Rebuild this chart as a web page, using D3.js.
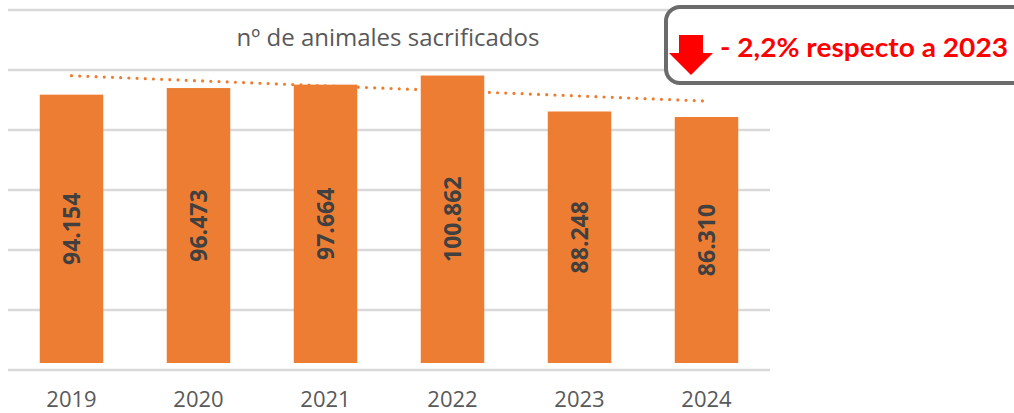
<!DOCTYPE html>
<html>
<head>
<meta charset="utf-8">
<script src="https://cdn.jsdelivr.net/npm/d3@7"></script>
<style>
    body { margin: 0; background: #ffffff; }
    svg { display: block; }
</style>
</head>
<body>
<div id="chart"></div>
<script>
// data
let years = ["2019", "2020", "2021", "2022", "2023", "2024"];
let animals = [94154, 96473, 97664, 100862, 88248, 86310];
// dotted trend line, start and end values (first and last year)
let trendEnds = [100800, 91900];
let gridTicks = [0, 20000, 40000, 60000, 80000, 100000, 120000];
let chartTitle = "nº de animales sacrificados";
let calloutText = "- 2,2% respecto a 2023";

let width = 1014, height = 413;

// numbers with "." as thousands separator
let es = d3.formatLocale({decimal: ",", thousands: ".", grouping: [3], currency: ["", " €"]});
let fmt = es.format(",d");

let svg = d3.select("#chart")
    .append("svg")
    .attr("width", width)
    .attr("height", height);

// soft edge on the bars like the original
let defs = svg.append("defs");
defs.append("filter")
    .attr("id", "soft")
    .append("feGaussianBlur")
    .attr("stdDeviation", 0.6);

// scales
let x = d3.scaleBand()
    .domain(years)
    .range([8, 770])
    .paddingInner(0.5)
    .paddingOuter(0.25);

let gridY = d3.scaleLinear()
    .domain([0, 120000])
    .range([370, 10]);

let y = d3.scaleLinear()
    .domain([0, 120000])
    .range([363, 21]);

// gridlines
svg.append("g")
    .selectAll("line")
    .data(gridTicks)
    .enter()
    .append("line")
    .attr("x1", 8)
    .attr("x2", 770)
    .attr("y1", d => gridY(d))
    .attr("y2", d => gridY(d))
    .attr("stroke", "#d9d9d9")
    .attr("stroke-width", 2.5);

// title
svg.append("text")
    .attr("x", 388)
    .attr("y", 46)
    .attr("text-anchor", "middle")
    .style("font-family", "'Open Sans', sans-serif")
    .style("font-size", "24px")
    .style("fill", "#595959")
    .text(chartTitle);

// bars
svg.append("g")
    .selectAll("rect")
    .data(animals)
    .enter()
    .append("rect")
    .attr("x", (d, i) => x(years[i]))
    .attr("width", x.bandwidth())
    .attr("y", d => y(d))
    .attr("height", d => y(0) - y(d))
    .attr("fill", "#ED7D31")
    .attr("filter", "url(#soft)");

// value labels inside bars
svg.append("g")
    .selectAll("text")
    .data(animals)
    .enter()
    .append("text")
    .attr("transform", (d, i) => "translate(" + (x(years[i]) + x.bandwidth() / 2) + "," + ((y(d) + y(0)) / 2) + ") rotate(-90)")
    .attr("text-anchor", "middle")
    .attr("dy", "0.36em")
    .style("font-family", "'Open Sans', sans-serif")
    .style("font-weight", "bold")
    .style("font-size", "23px")
    .style("fill", "#404040")
    .text(d => fmt(d));

// dotted trend line
let trendLine = d3.line()
    .x(d => d[0])
    .y(d => y(d[1]));

svg.append("path")
    .datum([
        [x(years[0]) + x.bandwidth() / 2, trendEnds[0]],
        [x(years[years.length - 1]) + x.bandwidth() / 2, trendEnds[1]]
    ])
    .attr("d", trendLine)
    .attr("fill", "none")
    .attr("stroke", "#ED7D31")
    .attr("stroke-width", 3.2)
    .attr("stroke-linecap", "round")
    .attr("stroke-dasharray", "0 8.2");

// year axis
let xAxis = svg.append("g")
    .attr("transform", "translate(0,370)")
    .call(d3.axisBottom(x).tickSize(0).tickPadding(0));
xAxis.select(".domain").remove();
xAxis.selectAll("text")
    .attr("y", 37)
    .attr("dy", 0)
    .style("font-family", "'Open Sans', sans-serif")
    .style("font-size", "22px")
    .style("fill", "#595959");

// callout box
let callout = svg.append("g");
callout.append("rect")
    .attr("x", 666)
    .attr("y", 7)
    .attr("width", 420)
    .attr("height", 76)
    .attr("rx", 14)
    .attr("fill", "#ffffff")
    .attr("stroke", "#6b6b6b")
    .attr("stroke-width", 4);

// red down arrow
callout.append("path")
    .attr("d", "M679,35 L703,35 L703,53 L713,53 L691,75 L669,53 L679,53 Z")
    .attr("fill", "#ff0000");

callout.append("text")
    .attr("x", 720)
    .attr("y", 57)
    .attr("textLength", 288)
    .attr("lengthAdjust", "spacingAndGlyphs")
    .style("font-family", "Lato, sans-serif")
    .style("font-weight", "bold")
    .style("font-size", "27px")
    .style("fill", "#ff0000")
    .text(calloutText);
</script>
</body>
</html>
